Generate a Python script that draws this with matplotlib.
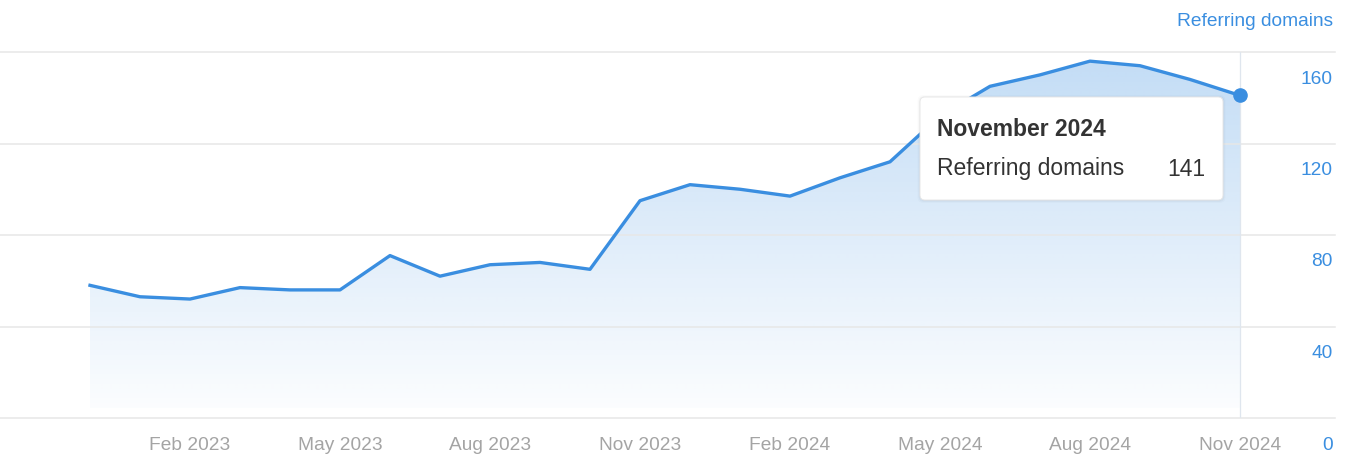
import matplotlib
matplotlib.use("Agg")
import matplotlib.pyplot as plt
import matplotlib.transforms as mtransforms
from matplotlib.patches import FancyBboxPatch
import numpy as np

# ---------------- data ----------------
months = ["Dec 2022", "Jan 2023", "Feb 2023", "Mar 2023", "Apr 2023", "May 2023",
          "Jun 2023", "Jul 2023", "Aug 2023", "Sep 2023", "Oct 2023", "Nov 2023",
          "Dec 2023", "Jan 2024", "Feb 2024", "Mar 2024", "Apr 2024", "May 2024",
          "Jun 2024", "Jul 2024", "Aug 2024", "Sep 2024", "Oct 2024", "Nov 2024"]
referring_domains = [58, 53, 52, 57, 56, 56, 71, 62, 67, 68, 65, 95,
                     102, 100, 97, 105, 112, 132, 145, 150, 156, 154, 148, 141]
x_tick_labels = ["Feb 2023", "May 2023", "Aug 2023", "Nov 2023",
                 "Feb 2024", "May 2024", "Aug 2024", "Nov 2024"]
y_ticks = [0, 40, 80, 120, 160]
series_name = "Referring domains"
tooltip_title = "November 2024"

# ---------------- style ----------------
plt.rcParams['font.family'] = ['Liberation Sans', 'DejaVu Sans']
BLUE = '#3a8ee0'
GRID = '#e7e7e7'
GRAY = '#a4a4a4'
DARK = '#333333'

W, H = 1354, 474
fig = plt.figure(figsize=(W / 100, H / 100), dpi=100)
fig.patch.set_facecolor('white')
ax = fig.add_axes([0, (H - 418) / H, 1335 / W, (418 - 52) / H])
for s in ax.spines.values():
    s.set_visible(False)
ax.set_xticks([])
ax.set_yticks([])

x = np.arange(len(months))
y = np.array(referring_domains, dtype=float)
ax.set_xlim(-1.8, 24.9)
ax.set_ylim(0, 160)

# gradient fill under the line
y_lo = 4.5
n = 256
alphas = np.linspace(0.31, 0.02, n)  # top -> bottom
rgb = np.array(matplotlib.colors.to_rgb(BLUE))
img = np.zeros((n, 2, 4))
img[..., :3] = rgb
img[..., 3] = alphas[:, None]
im = ax.imshow(img, extent=[x[0], x[-1], y_lo, 160], aspect='auto',
               origin='upper', zorder=1, interpolation='bilinear')
poly = ax.fill_between(x, y, y_lo, facecolor='none', edgecolor='none')
path = poly.get_paths()[0]
im.set_clip_path(path, ax.transData)

# grid lines
for yt in y_ticks:
    ax.axhline(yt, color=GRID, lw=1.1, zorder=2, clip_on=False)

# hover crosshair
ax.plot([x[-1], x[-1]], [0, 160], color='#dfe6ee', lw=0.9, zorder=2)

# line + last point marker
ax.plot(x, y, color=BLUE, lw=2.4, zorder=4, solid_joinstyle='round')
ax.plot(x[-1], y[-1], 'o', ms=9.5, color=BLUE, zorder=5)

# y labels (right, below gridlines)
for yt in y_ticks:
    ax.annotate(str(yt), xy=(1, yt), xycoords=('axes fraction', 'data'),
                xytext=(-2, -27), textcoords='offset pixels',
                ha='right', va='center', color=BLUE, fontsize=13.8,
                annotation_clip=False)

# x labels
for lab in x_tick_labels:
    idx = months.index(lab)
    ax.annotate(lab, xy=(idx, 0), xycoords='data',
                xytext=(0, -27), textcoords='offset pixels',
                ha='center', va='center', color=GRAY, fontsize=13.8,
                annotation_clip=False)

# series title top-right
fig.text(1333 / W, 1 - 22 / H, series_name, ha='right', va='center',
         color=BLUE, fontsize=13.8)

# tooltip
ident = mtransforms.IdentityTransform()
bx0, by_top, bw, bh = 920, 97, 303, 103
for i, a in enumerate([0.035, 0.025, 0.015]):
    sh = FancyBboxPatch((bx0 - i - 0.5, H - by_top - bh - 1.0 - i), bw + 2 * i + 1, bh + 2 * i + 1,
                        boxstyle="round,pad=0,rounding_size=6",
                        transform=ident, facecolor='black', edgecolor='none',
                        alpha=a, zorder=5)
    fig.add_artist(sh)
box = FancyBboxPatch((bx0, H - by_top - bh), bw, bh,
                     boxstyle="round,pad=0,rounding_size=5",
                     transform=ident, facecolor='white', edgecolor='#e8e8e8',
                     lw=0.7, zorder=6)
fig.add_artist(box)
fig.text(937 / W, 1 - 130 / H, tooltip_title, ha='left', va='center',
         color=DARK, fontsize=16.5, fontweight='bold', zorder=7)
fig.text(937 / W, 1 - 169 / H, series_name, ha='left', va='center',
         color=DARK, fontsize=16.5, zorder=7)
fig.text(1205 / W, 1 - 169 / H, str(referring_domains[-1]), ha='right', va='center',
         color=DARK, fontsize=16.5, zorder=7)

fig.savefig('out.png', dpi=100, facecolor='white')
